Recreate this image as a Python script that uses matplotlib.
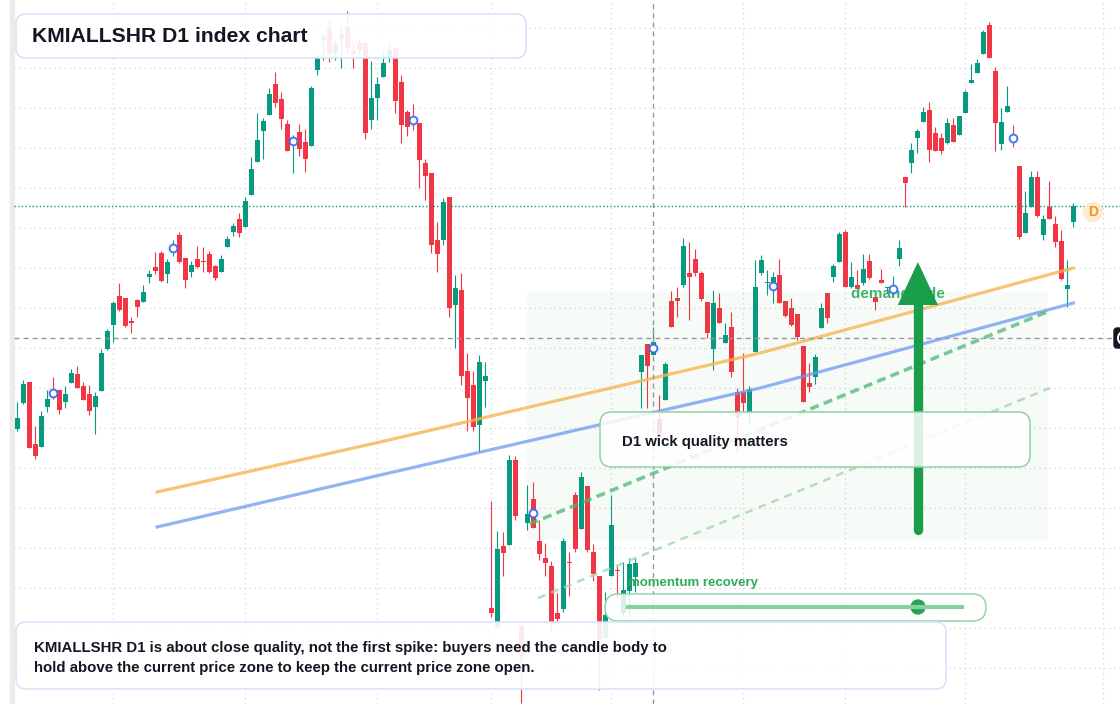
import matplotlib
matplotlib.use("Agg")
import matplotlib.pyplot as plt
import numpy as np
from matplotlib.patches import FancyBboxPatch, Rectangle, Circle, Arc
from matplotlib.lines import Line2D
from matplotlib.transforms import Affine2D

W, H = 1120, 704

# KMIALLSHR daily candles, oldest first
opens = [35990, 36250, 36460, 35840, 35810, 36210, 36370, 36380, 36260, 36450,
         36540, 36420, 36340, 36210, 36370, 36790, 37030, 37320, 37300, 37070,
         37280, 37260, 37510, 37610, 37750, 37540, 37780, 37930, 37700, 37560,
         37690, 37670, 37740, 37620, 37560, 37810, 37960, 38090, 38010, 38330,
         38660, 38970, 39130, 39440, 39290, 39040, 38850, 38960, 38860, 38820,
         39580, 39880, 39990, 39750, 39890, 40010, 39770, 39850, 39850, 39080,
         39300, 39510, 39700, 39800, 39460, 39160, 39100, 39050, 38650, 38550,
         37880, 37880, 38310, 37230, 37380, 36570, 36430, 36030, 36470, 34200,
         34010, 34820, 34830, 35680, 34030, 35050, 35290, 34870, 34700, 34620,
         34150, 34190, 34660, 35330, 34990, 35420, 34760, 34520, 33900, 34520,
         34580, 34150, 34370, 34510, 36560, 36840, 36730, 36090, 36280, 37270,
         37300, 37430, 37550, 37690, 37550, 37260, 36790, 37200, 36850, 37010,
         36360, 36360, 36150, 36760, 37550, 37450, 37410, 37530, 37270, 37200,
         37140, 36820, 36450, 36510, 37000, 37350, 37510, 37660, 37960, 37410,
         37430, 37450, 37670, 37310, 37480, 37400, 37370, 37690, 38510, 38650,
         38900, 39060, 39180, 38950, 38900, 38850, 39030, 38930, 39150, 39450,
         39550, 39740, 40030, 39570, 38840, 39160, 38920, 38620, 37950, 38210,
         38510, 37930, 38210, 38040, 37870, 37390, 38060]
highs = [36260, 36480, 36460, 36020, 36170, 36380, 36510, 36380, 36420, 36590,
         36620, 36460, 36430, 36360, 36790, 36990, 37270, 37450, 37300, 37110,
         37290, 37430, 37580, 37760, 37770, 37690, 37880, 37960, 37700, 37670,
         37820, 37810, 37770, 37630, 37730, 37920, 38050, 38150, 38310, 38710,
         39150, 39100, 39400, 39560, 39360, 39080, 38930, 39040, 38990, 39420,
         39750, 39950, 40070, 39890, 40010, 40170, 39850, 39890, 39850, 39670,
         39510, 39780, 39850, 39800, 39530, 39180, 39240, 39050, 38690, 38550,
         38060, 38300, 38310, 37530, 37550, 36750, 36570, 36730, 36660, 35270,
         34970, 34960, 35730, 35720, 34030, 35430, 35460, 35080, 34850, 34670,
         34350, 34900, 34760, 35360, 35560, 35420, 34840, 34520, 34360, 35330,
         34620, 34660, 34700, 34700, 36730, 36840, 37010, 36330, 36660, 37370,
         37410, 37900, 37860, 37790, 37570, 37260, 37380, 37350, 37050, 37160,
         36400, 36750, 36420, 37680, 37730, 37580, 37560, 37690, 37270, 37300,
         37140, 36820, 36650, 36740, 37250, 37350, 37640, 37960, 37980, 37660,
         37580, 37740, 37740, 37310, 37590, 37410, 37520, 37880, 38510, 38850,
         38990, 39210, 39260, 39010, 38950, 39100, 39100, 39120, 39380, 39640,
         39690, 39980, 40060, 39610, 39200, 39420, 39030, 38620, 38370, 38570,
         38570, 38130, 38470, 38120, 37980, 37680, 38250]
lows = [35970, 36240, 35800, 35690, 35810, 36160, 36290, 36140, 36200, 36450,
        36400, 36280, 36130, 35940, 36370, 36780, 36860, 37170, 37010, 36950,
        37110, 37260, 37450, 37540, 37460, 37450, 37720, 37650, 37400, 37510,
        37600, 37560, 37550, 37480, 37560, 37810, 37920, 37910, 38010, 38330,
        38660, 38690, 39130, 39210, 38990, 38770, 38550, 38720, 38560, 38820,
        39530, 39680, 39660, 39680, 39600, 39750, 39600, 39750, 38890, 38990,
        39080, 39510, 39660, 39150, 38850, 38920, 38980, 38400, 38280, 37750,
        37560, 37830, 37110, 36800, 36430, 35970, 35970, 35760, 36210, 34110,
        34010, 34520, 34830, 35080, 33250, 34980, 35000, 34680, 34520, 33960,
        34030, 34160, 34320, 34760, 34990, 34760, 34470, 33380, 33900, 34520,
        34300, 34130, 34110, 34360, 36200, 36200, 36730, 35910, 36280, 37010,
        37110, 37410, 37080, 37520, 37270, 36900, 36580, 37050, 36850, 36510,
        35760, 36150, 36050, 36760, 37530, 37330, 37250, 37250, 37110, 37020,
        36880, 36260, 36360, 36440, 37000, 37050, 37460, 37660, 37410, 37400,
        37390, 37430, 37490, 37180, 37450, 37350, 37330, 37620, 38210, 38550,
        38750, 39060, 38660, 38770, 38740, 38840, 38860, 38930, 39150, 39450,
        39550, 39740, 39700, 38770, 38780, 39160, 38810, 37890, 37950, 38210,
        38110, 37880, 38090, 37810, 37480, 37210, 38010]
closes = [36100, 36440, 35800, 35720, 36120, 36290, 36330, 36180, 36340, 36550,
          36400, 36280, 36170, 36320, 36750, 36970, 37250, 37180, 37020, 37050,
          37210, 37360, 37540, 37570, 37470, 37660, 37820, 37660, 37480, 37630,
          37610, 37660, 37560, 37500, 37690, 37890, 38020, 37950, 38270, 38590,
          38880, 39070, 39340, 39250, 39090, 38770, 38890, 38790, 38690, 39400,
          39700, 39920, 39750, 39840, 39940, 39800, 39740, 39780, 38950, 39300,
          39440, 39650, 39780, 39270, 39030, 39010, 39060, 38680, 38520, 37830,
          37740, 38260, 37200, 37400, 36520, 36300, 36010, 36660, 36520, 34150,
          34790, 34750, 35680, 35120, 33710, 35140, 35000, 34740, 34650, 34050,
          34090, 34870, 34650, 34790, 35510, 34780, 34540, 33880, 34130, 35030,
          34570, 34380, 34640, 34650, 36730, 36620, 36860, 35910, 36640, 37010,
          37270, 37820, 37510, 37550, 37290, 36950, 37250, 37050, 36930, 36560,
          36110, 36250, 36390, 37410, 37680, 37460, 37510, 37250, 37120, 37030,
          36910, 36260, 36410, 36710, 37200, 37100, 37620, 37940, 37410, 37510,
          37390, 37590, 37500, 37260, 37450, 37410, 37410, 37800, 38450, 38780,
          38970, 39160, 38780, 38770, 38770, 39050, 38860, 39120, 39360, 39480,
          39650, 39960, 39700, 39050, 39060, 39220, 38880, 37910, 38150, 38510,
          38120, 38090, 38090, 37860, 37490, 37430, 38220]

# month separators (bar index) and price grid step
month_bars = [16, 38, 60, 79, 99, 121, 138, 158, 181]
grid_step = 400

# signal markers
marker_bars = [6, 26, 46, 66, 86, 106, 126, 146, 166]
marker_prices = [36350, 37800, 38870, 39080, 35150, 36800, 37420, 37390, 38900]

# moving average curves
ma_bars = [23.3, 60.5, 123.8, 176]
ma_fast = [35360, 35860, 36750, 37600]
ma_slow = [35010, 35530, 36400, 37250]

# trend lines
trend_bars = [85.4, 171.6]
trend_main = [35040, 37160]
trend2_bars = [86.8, 172.1]
trend_lower = [34300, 36400]

# demand zone, arrow, crosshair
zone_bars = [85.0, 171.8]
zone_prices = [34880, 37360]
arrow_bar, arrow_from, arrow_to = 150.1, 34980, 37660
cross_bar, cross_price = 106, 36900

GREEN = '#089981'
RED = '#f23645'
INK = '#131722'
plt.rcParams['font.family'] = ['Liberation Sans', 'DejaVu Sans']

fig = plt.figure(figsize=(W / 100, H / 100), dpi=100)
ax = fig.add_axes([0, 0, 1, 1])
ax.set_xlim(-17.3 / 6, (W - 17.3) / 6)
ax.set_ylim(33240, 40280)
ax.axis('off')
pix = Affine2D().scale(1, -1).translate(0, H)

# grid
for p in np.arange(33600, 40001, grid_step):
    ax.axhline(p, xmin=14 / W, color='#d4d4d4', lw=0.9, ls=(0, (1, 3)), zorder=0)
for b in month_bars:
    ax.axvline(b, color='#d4d4d4', lw=0.9, ls=(0, (1, 3)), zorder=0)
ax.add_patch(Rectangle((10 / W, 0), 4 / W, 1, transform=ax.transAxes,
                       color='#ebebeb', zorder=1))

# candles
o = np.array(opens); c = np.array(closes)
idx = np.arange(len(o))
cols = np.where(c >= o, GREEN, RED)
ax.vlines(idx, lows, highs, colors=cols, lw=0.8, zorder=2)
ax.bar(idx, np.maximum(np.abs(c - o), 12), bottom=np.minimum(o, c), width=0.8,
       color=cols, lw=0, zorder=2.1)

# zone
ax.add_patch(Rectangle((zone_bars[0], zone_prices[0]), zone_bars[1] - zone_bars[0],
                       zone_prices[1] - zone_prices[0], color='#16a34a', alpha=0.035,
                       lw=0, zorder=3))

# moving averages and trend lines
ax.plot(ma_bars, ma_fast, color='#f6b64f', lw=2.3, alpha=0.8, zorder=4)
ax.plot(ma_bars, ma_slow, color='#6f9af0', lw=2.3, alpha=0.75, zorder=4)
ax.plot(trend_bars, trend_main, color='#4cb873', lw=2.6, alpha=0.75,
        dashes=(2.5, 1.5), zorder=4)
ax.plot(trend2_bars, trend_lower, color='#9fd8b2', lw=1.8, alpha=0.8,
        dashes=(3.2, 2.4), zorder=4)

# crosshair and last price
ax.axvline(cross_bar - 0.05, color='#9598a1', lw=1, ls=(0, (3.6, 2.9)), zorder=5)
ax.axhline(cross_price, xmin=14 / W, xmax=1114 / W, color='#9598a1', lw=1,
           ls=(0, (3.6, 2.9)), zorder=5)
ax.axhline(closes[-1], xmin=14 / W, color=GREEN, lw=1, ls=(0, (1, 1.6)), zorder=5)

# markers
ax.scatter(marker_bars, marker_prices, s=75, color='#3b6ef0', alpha=0.15, lw=0, zorder=5)
ax.scatter(marker_bars, marker_prices, s=30, facecolors='white',
           edgecolors='#3b6ef0', lw=1.2, zorder=5.1)

# demand side label + arrow
ax.text(851, 294, 'demand side', transform=pix, color='#2eaa5c', fontsize=11,
        fontweight='bold', va='center', alpha=0.9, zorder=4.5)
head_len, head_half = 430, 3.35
ax.plot([arrow_bar, arrow_bar], [arrow_from, arrow_to - head_len + 20], color='#1a9e4b',
        lw=6.7, solid_capstyle='round', zorder=5)
ax.fill([arrow_bar - head_half, arrow_bar, arrow_bar + head_half],
        [arrow_to - head_len, arrow_to, arrow_to - head_len], color='#1a9e4b', lw=0, zorder=5)

# boxes
def box(x, y, w, h, r, ec, a=0.88):
    fig.add_artist(FancyBboxPatch((x, y), w, h, boxstyle=f'round,pad=0,rounding_size={r}',
                                  transform=pix, fc=(1, 1, 1, a), ec=ec, lw=1.1))

box(16, 14, 510, 44, 10, '#d3e2f7', 0.9)
fig.text(32, 37, 'KMIALLSHR D1 index chart', transform=pix, color=INK, fontsize=15.2,
         fontweight='bold', va='center')

box(600, 412, 430, 55, 12, '#8fd3a5', 0.85)
fig.text(622, 442, 'D1 wick quality matters', transform=pix, color=INK, fontsize=10.8,
         fontweight='bold', va='center')

box(605, 594, 381, 27, 13.5, '#93d6a8', 0.85)
fig.add_artist(Line2D([628, 962], [607, 607], transform=pix, lw=3, color='#86d19f'))
fig.add_artist(Circle((918, 607), 7, transform=pix, color='#22a653'))
fig.text(628, 583, 'momentum recovery', transform=pix, color='#2eaa5c', fontsize=9.5,
         fontweight='bold', va='center')

box(16, 622, 930, 67, 10, '#d3e2f7', 0.9)
fig.text(34, 648, 'KMIALLSHR D1 is about close quality, not the first spike: buyers need the candle body to',
         transform=pix, color=INK, fontsize=10.8, fontweight='bold', va='center')
fig.text(34, 668, 'hold above the current price zone to keep the current price zone open.',
         transform=pix, color=INK, fontsize=10.8, fontweight='bold', va='center')

# right edge badges
fig.add_artist(Circle((1093, 212), 9.5, transform=pix, color='#fdebd3'))
fig.text(1093, 212, 'D', transform=pix, color='#f7931a', fontsize=10, fontweight='bold',
         ha='center', va='center')
fig.add_artist(FancyBboxPatch((1114, 328), 24, 20, boxstyle='round,pad=0,rounding_size=3',
                              transform=pix, color=INK))
fig.add_artist(Arc((1123, 338), 10, 12, theta1=90, theta2=270, transform=pix,
                   color='white', lw=1.4))

fig.savefig('out.png', dpi=100)
